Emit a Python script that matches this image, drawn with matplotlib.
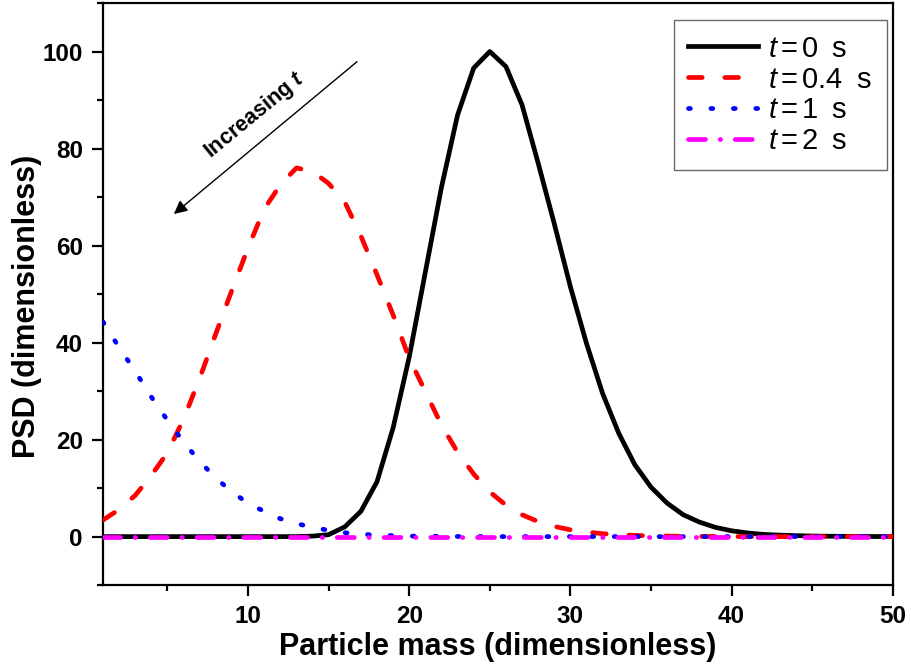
import numpy as np
import matplotlib
matplotlib.use("Agg")
import matplotlib.pyplot as plt
from matplotlib.ticker import MultipleLocator

plt.rcParams['font.family'] = ['Liberation Sans', 'DejaVu Sans']
plt.rcParams['mathtext.fontset'] = 'custom'
plt.rcParams['mathtext.rm'] = 'Liberation Sans'
plt.rcParams['mathtext.it'] = 'Liberation Sans:italic'
plt.rcParams['mathtext.bf'] = 'Liberation Sans:bold:italic'

# particle mass classes 1..50
mass = np.arange(1, 51)

# PSD at t = 0 s
psd_t0 = [0, 0, 0, 0, 0, 0, 0, 0, 0, 0,
          0, 0, 0, 0.1, 0.4, 2.0, 5.2, 11.3, 22.4, 37.0,
          54.5, 72.0, 86.9, 96.6, 100.0, 96.9, 89.0, 77.0, 64.5, 51.5,
          39.8, 29.5, 21.3, 14.8, 10.2, 6.9, 4.5, 3.0, 1.9, 1.2,
          0.75, 0.45, 0.3, 0.2, 0.12, 0.08, 0.05, 0.03, 0.02, 0.01]

# PSD at t = 0.4 s
psd_t04 = [3.4, 5.6, 8.5, 12.6, 17.3, 24.2, 32.6, 41.8, 50.8, 59.5,
           67.5, 72.5, 76.0, 75.3, 72.8, 69.0, 62.0, 54.0, 45.7, 36.8,
           29.9, 23.0, 17.4, 12.9, 9.2, 6.5, 4.5, 3.1, 2.1, 1.4,
           0.95, 0.6, 0.4, 0.25, 0.15, 0.1, 0.06, 0.04, 0.02, 0.01,
           0, 0, 0, 0, 0, 0, 0, 0, 0, 0]

# PSD at t = 1 s
psd_t1 = [44.3, 39.0, 34.1, 28.8, 24.0, 19.5, 15.5, 12.1, 9.2, 6.9,
          5.2, 3.7, 2.7, 1.9, 1.3, 0.8, 0.5, 0.3, 0.2, 0.1,
          0.1, 0.05, 0.03, 0.02, 0.01, 0, 0, 0, 0, 0,
          0, 0, 0, 0, 0, 0, 0, 0, 0, 0,
          0, 0, 0, 0, 0, 0, 0, 0, 0, 0]

# PSD at t = 2 s
psd_t2 = [0.0] * 50

times = ['0', '0.4', '1', '2']
labels = [r'$t\,$=$\,$' + tm + '\u2002s' for tm in times]

fig = plt.figure(figsize=(9.11, 6.71), dpi=100)
ax = fig.add_axes([0.113, 0.128, 0.867, 0.8675])

lw = 3.4
ax.plot(mass, psd_t0, color='black', lw=lw, label=labels[0], zorder=3)
ax.plot(mass, psd_t04, color='red', lw=lw, label=labels[1], zorder=4,
        dashes=(2.9, 4.8), dash_capstyle='round')
ax.plot(mass, psd_t1, color='blue', lw=lw, label=labels[2], zorder=5,
        dashes=(0.4, 4.35), dash_capstyle='round')
ax.plot(mass, psd_t2, color='magenta', lw=lw, label=labels[3], zorder=6,
        dashes=(3.6, 3.1, 0.1, 3.1), dash_capstyle='round')

ax.set_xlim(1, 50)
ax.set_ylim(-10, 110)
ax.xaxis.set_major_locator(MultipleLocator(10))
ax.xaxis.set_minor_locator(MultipleLocator(5))
ax.yaxis.set_major_locator(MultipleLocator(20))
ax.yaxis.set_minor_locator(MultipleLocator(10))

for side in ['left', 'bottom', 'top', 'right']:
    ax.spines[side].set_linewidth(1.6)
ax.tick_params(which='both', direction='out', top=False, right=False, width=1.6)
ax.tick_params(which='major', length=8, labelsize=17.5, pad=6.5)
ax.tick_params(which='minor', length=4.5)
for lab in ax.get_xticklabels() + ax.get_yticklabels():
    lab.set_fontweight('bold')

ax.set_xlabel('Particle mass (dimensionless)', fontsize=22, fontweight='bold', labelpad=3)
ax.set_ylabel('PSD (dimensionless)', fontsize=22, fontweight='bold')
ax.yaxis.set_label_coords(-0.077, 0.479)

# arrow showing the direction of time
ax.annotate('', xy=(5.4, 66.5), xytext=(16.76, 97.9),
            arrowprops=dict(arrowstyle='-|>', color='black', lw=1,
                            mutation_scale=20, shrinkA=0, shrinkB=0))
ax.text(10.43, 86.8, r'Increasing $\mathbf{t}$', fontsize=15.5, fontweight='bold',
        rotation=39.5, ha='center', va='center', rotation_mode='anchor')

leg = ax.legend(loc='upper right', bbox_to_anchor=(0.9924, 0.9708), borderaxespad=0,
                fontsize=21, fancybox=False, handlelength=2.4, handletextpad=0.35,
                labelspacing=0.1, borderpad=0.5)
leg.get_frame().set_edgecolor('#444444')
leg.get_frame().set_linewidth(1)

fig.savefig('out.png', dpi=100)
